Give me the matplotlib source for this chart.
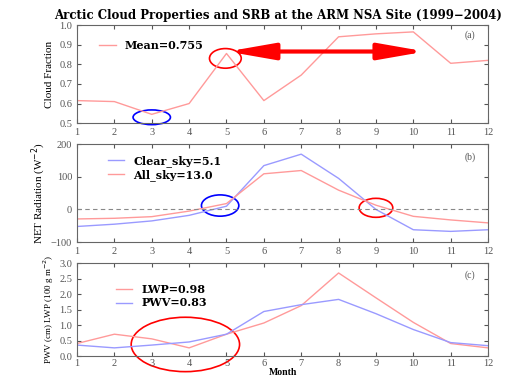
import matplotlib.pyplot as plt
from matplotlib.patches import Ellipse

# monthly climatology values
months = [1, 2, 3, 4, 5, 6, 7, 8, 9, 10, 11, 12]
cloud_fraction = [0.615, 0.61, 0.545, 0.60, 0.855, 0.615, 0.745, 0.94, 0.955, 0.965, 0.805, 0.82]
clear_sky = [-52, -45, -35, -18, 10, 134, 169, 95, 0, -62, -67, -62]
all_sky = [-29, -27, -22, -5, 18, 109, 119, 59, 13, -21, -32, -41]
lwp = [0.41, 0.71, 0.56, 0.27, 0.71, 1.07, 1.63, 2.68, 1.88, 1.09, 0.41, 0.27]
pwv = [0.36, 0.27, 0.36, 0.46, 0.71, 1.44, 1.66, 1.83, 1.37, 0.86, 0.44, 0.34]

red = '#ff9a9a'
blue = '#9a9aff'
plt.rcParams['font.family'] = ['Liberation Serif', 'DejaVu Serif']
bold = {'family': 'DejaVu Serif', 'weight': 'bold', 'size': 8}

fig = plt.figure(figsize=(5.1, 3.79), dpi=100)
ax1 = fig.add_axes([0.151, 0.675, 0.806, 0.259])
ax2 = fig.add_axes([0.151, 0.361, 0.806, 0.259])
ax3 = fig.add_axes([0.151, 0.06, 0.806, 0.246])

for ax in (ax1, ax2, ax3):
    ax.set_xlim(1, 12)
    ax.set_xticks(months)
    ax.tick_params(direction='in', top=True, right=True, labelsize=7.5, colors='#555555', length=3)
    for s in ax.spines.values():
        s.set_color('#666666')
        s.set_linewidth(0.8)

# (a) cloud fraction
ax1.plot(months, cloud_fraction, color=red, lw=1, label='Mean=0.755')
ax1.set_ylim(0.5, 1.0)
ax1.set_yticks([0.5, 0.6, 0.7, 0.8, 0.9, 1.0])
ax1.set_ylabel('Cloud Fraction', fontsize=8, labelpad=4)
ax1.legend(loc='upper left', bbox_to_anchor=(0.03, 0.95), frameon=False,
           prop=bold, handlelength=1.5)
ax1.text(0.97, 0.9, '(a)', transform=ax1.transAxes, ha='right', va='center', fontsize=7, color='#555555')
ax1.add_patch(Ellipse((3, 0.53), 1.0, 0.075, fill=False, ec='blue', lw=1.2, clip_on=False))
ax1.add_patch(Ellipse((4.97, 0.83), 0.85, 0.1, fill=False, ec='red', lw=1.2, clip_on=False))
ax1.annotate('', xy=(10.4, 0.865), xytext=(4.95, 0.865),
             arrowprops=dict(arrowstyle='<|-|>,head_length=2.0,head_width=0.35',
                             color='red', lw=3, mutation_scale=14))
ax1.set_title('Arctic Cloud Properties and SRB at the ARM NSA Site (1999\u22122004)',
              fontdict={'family': 'DejaVu Serif', 'weight': 'bold', 'size': 8.5}, x=0.49, pad=4)

# (b) net radiation
ax2.plot(months, clear_sky, color=blue, lw=1, label='Clear_sky=5.1')
ax2.plot(months, all_sky, color=red, lw=1, label='All_sky=13.0')
ax2.axhline(0, color='#888888', ls='--', lw=0.8, dashes=(4, 3))
ax2.set_ylim(-100, 200)
ax2.set_yticks([-100, 0, 100, 200])
ax2.set_ylabel('NET Radiation (W$^{-2}$)', fontsize=8, labelpad=2)
ax2.legend(loc='upper left', bbox_to_anchor=(0.05, 0.99), frameon=False,
           prop=bold, handlelength=1.5, labelspacing=0.2)
ax2.text(0.97, 0.87, '(b)', transform=ax2.transAxes, ha='right', va='center', fontsize=7, color='#555555')
ax2.add_patch(Ellipse((4.83, 12), 1.0, 65, fill=False, ec='blue', lw=1.2, clip_on=False))
ax2.add_patch(Ellipse((9.0, 5), 0.9, 58, fill=False, ec='red', lw=1.2, clip_on=False))

# (c) water path
ax3.plot(months, lwp, color=red, lw=1, label='LWP=0.98')
ax3.plot(months, pwv, color=blue, lw=1, label='PWV=0.83')
ax3.set_ylim(0, 3.0)
ax3.set_yticks([0, 0.5, 1.0, 1.5, 2.0, 2.5, 3.0])
ax3.set_yticklabels(['0.0', '0.5', '1.0', '1.5', '2.0', '2.5', '3.0'])
ax3.set_ylabel('PWV (cm) LWP (100 g m$^{-2}$)', fontsize=6.5, labelpad=2)
ax3.legend(loc='upper left', bbox_to_anchor=(0.07, 0.88), frameon=False,
           prop=bold, handlelength=1.5, labelspacing=0.2)
ax3.text(0.97, 0.87, '(c)', transform=ax3.transAxes, ha='right', va='center', fontsize=7, color='#555555')
ax3.add_patch(Ellipse((3.9, 0.38), 2.9, 1.75, fill=False, ec='red', lw=1.2, clip_on=False))
ax3.tick_params(axis='x', pad=2)
ax3.set_xlabel('Month', fontsize=7, fontweight='bold', labelpad=0)

fig.savefig('out.png', dpi=100)
